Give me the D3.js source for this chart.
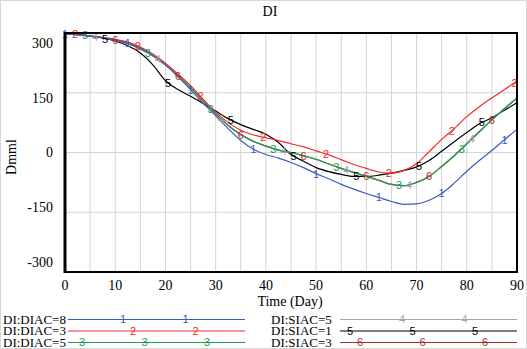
<!DOCTYPE html>
<html>
<head>
<meta charset="utf-8">
<script src="https://cdn.jsdelivr.net/npm/d3@7"></script>
<style>
  body { margin: 0; background: #fff; }
  svg { display: block; }
  text { font-family: "Liberation Serif", "DejaVu Serif", serif; fill: #000; }
  .mark { font-family: "Liberation Sans", Arial, sans-serif; font-size: 11px; }
</style>
</head>
<body>
<div id="chart"></div>
<script>
// --- data ---
const days = [0, 2.5, 5, 7.5, 10, 12.5, 15, 17.5, 20, 22.5, 25, 27.5, 30, 32.5, 35, 37.5, 40, 42.5, 45,
              47.5, 50, 52.5, 55, 57.5, 60, 62.5, 65, 67.5, 70, 72.5, 75, 77.5, 80, 82.5, 85, 87.5, 90];

const diac8 = [298, 296, 292, 288, 282, 274, 262, 243, 220, 190, 158, 124, 92, 60, 30, 8, -5, -14, -25,
               -38, -53, -66, -80, -92, -103, -113, -123, -130, -129, -120, -103, -77, -47, -20, 5, 32, 58];
const diac3 = [298, 296, 293, 289, 284, 277, 265, 247, 224, 197, 168, 134, 101, 75, 56, 44, 37, 30, 22,
               14, 4, -6, -18, -30, -40, -49, -52, -45, -28, 2, 33, 60, 90, 115, 137, 158, 180];
const diac5 = [298, 296, 292, 288, 282, 274, 260, 243, 220, 193, 163, 130, 97, 68, 45, 28, 16, 6, 0,
               -8, -17, -29, -40, -50, -60, -70, -80, -83, -75, -60, -35, -8, 22, 52, 82, 110, 137];
const siac5 = diac5.slice();   // hidden under DIAC=5 line
const siac1 = [298, 296, 292, 287, 280, 268, 250, 220, 180, 158, 141, 123, 104, 85, 70, 58, 46, 25, -5,
               -22, -38, -48, -55, -60, -60, -57, -52, -45, -36, -20, 3, 27, 50, 72, 87, 106, 125];
const siac3 = diac5.slice();   // hidden under DIAC=5 line

const seriesNames = ["DI:DIAC=8", "DI:DIAC=3", "DI:DIAC=5", "DI:SIAC=5", "DI:SIAC=1", "DI:SIAC=3"];
const seriesValues = [diac8, diac3, diac5, siac5, siac1, siac3];
const seriesColors = ["#3a5cbf", "#f52a2a", "#1f9a52", "#a6a6a6", "#000000", "#b22a2a"];

const xTicks = [0, 10, 20, 30, 40, 50, 60, 70, 80, 90];
const yTicks = [-300, -150, 0, 150, 300];

(function(){
    const W = 527, H = 349;
    const svg = d3.select("#chart").append("svg")
        .attr("width", W)
        .attr("height", H);

    svg.append("rect")
        .attr("x", 0.5).attr("y", 0.5)
        .attr("width", W - 1).attr("height", H - 1)
        .attr("fill", "#fff")
        .attr("stroke", "#d8d8d8");

    const x = d3.scaleLinear().domain([0, 90]).range([65, 517]);
    const y = d3.scaleLinear().domain([-300, 300]).range([272, 33]);
    // Vensim packs the y labels a bit tighter than the grid
    const yLab = d3.scaleLinear().domain([-300, 300]).range([262, 43]);

    // --- grid ---
    svg.append("g")
        .selectAll("line")
        .data(d3.range(5, 90, 5))
        .join("line")
        .attr("x1", d => x(d)).attr("x2", d => x(d))
        .attr("y1", y(300)).attr("y2", y(-300))
        .attr("stroke", "#d4d4d4");

    svg.append("g")
        .selectAll("line")
        .data([-150, 0, 150])
        .join("line")
        .attr("x1", x(0)).attr("x2", x(90))
        .attr("y1", d => y(d)).attr("y2", d => y(d))
        .attr("stroke", "#d4d4d4");

    // --- series ---
    const line = d3.line()
        .x((d, i) => x(days[i]))
        .y(d => y(d))
        .curve(d3.curveMonotoneX);

    const plot = svg.append("g");
    const paths = [];
    for (let k = seriesValues.length - 1; k >= 0; k--) {
        paths[k] = plot.append("path")
            .datum(seriesValues[k])
            .attr("fill", "none")
            .attr("stroke", seriesColors[k])
            .attr("stroke-width", 1.2)
            .attr("d", line)
            .node();
    }

    // y on a drawn path at a given x
    function yOnPath(node, px) {
        const total = node.getTotalLength();
        let lo = 0, hi = total;
        for (let it = 0; it < 30; it++) {
            const mid = (lo + hi) / 2;
            if (node.getPointAtLength(mid).x < px) lo = mid; else hi = mid;
        }
        return node.getPointAtLength(lo).y;
    }

    // --- run numbers along each curve ---
    const marks = svg.append("g");
    seriesValues.forEach((vals, k) => {
        for (let d = 2 * k; d <= 90; d += 12.5) {
            const px = x(d);
            const py = yOnPath(paths[k], px);
            marks.append("text")
                .attr("class", "mark")
                .attr("x", px)
                .attr("y", py)
                .attr("dy", "0.36em")
                .attr("text-anchor", "middle")
                .style("fill", seriesColors[k])
                .text(k + 1);
        }
    });

    // --- frame ---
    svg.append("rect")
        .attr("x", x(0)).attr("y", y(300))
        .attr("width", x(90) - x(0)).attr("height", y(-300) - y(300))
        .attr("fill", "none")
        .attr("stroke", "#000")
        .attr("stroke-width", 2);
    svg.append("line")
        .attr("x1", x(0)).attr("x2", x(0))
        .attr("y1", y(300) - 1).attr("y2", y(-300) + 1)
        .attr("stroke", "#000").attr("stroke-width", 3);

    // --- tick labels ---
    svg.append("g")
        .selectAll("text")
        .data(yTicks)
        .join("text")
        .attr("x", 53)
        .attr("y", d => yLab(d))
        .attr("dy", "0.35em")
        .attr("text-anchor", "end")
        .style("font-size", "14px")
        .text(d => d);

    svg.append("g")
        .selectAll("text")
        .data(xTicks)
        .join("text")
        .attr("x", d => x(d))
        .attr("y", 290)
        .attr("text-anchor", "middle")
        .style("font-size", "14px")
        .text(d => d);

    // --- titles ---
    svg.append("text")
        .attr("x", 270).attr("y", 16)
        .attr("text-anchor", "middle")
        .style("font-size", "14px")
        .text("DI");

    svg.append("text")
        .attr("x", 290).attr("y", 306)
        .attr("text-anchor", "middle")
        .style("font-size", "14px")
        .text("Time (Day)");

    svg.append("text")
        .attr("transform", "translate(16,157) rotate(-90)")
        .attr("text-anchor", "middle")
        .style("font-size", "14px")
        .text("Dmml");

    // --- legend ---
    const legendRows = [319.5, 331, 342.5];
    const legendCols = [
        { textX: 3, x0: 68, x1: 245 },
        { textX: 271, x0: 340, x1: 517 }
    ];
    const legendFirst = [55, 65, 14, 62, 10, 20];   // px from line start to first number

    seriesNames.forEach((name, k) => {
        const col = legendCols[Math.floor(k / 3)];
        const ry = legendRows[k % 3];
        const g = svg.append("g");
        g.append("text")
            .attr("x", col.textX)
            .attr("y", ry + 4)
            .style("font-size", "13px")
            .text(name);
        g.append("line")
            .attr("x1", col.x0).attr("x2", col.x1)
            .attr("y1", ry).attr("y2", ry)
            .attr("stroke", seriesColors[k])
            .attr("stroke-width", 1.2);
        for (let off = legendFirst[k]; col.x0 + off < col.x1 - 8; off += 62.5) {
            g.append("text")
                .attr("class", "mark")
                .attr("x", col.x0 + off)
                .attr("y", ry)
                .attr("dy", "0.36em")
                .attr("text-anchor", "middle")
                .style("fill", seriesColors[k])
                .text(k + 1);
        }
    });
})();
</script>
</body>
</html>
